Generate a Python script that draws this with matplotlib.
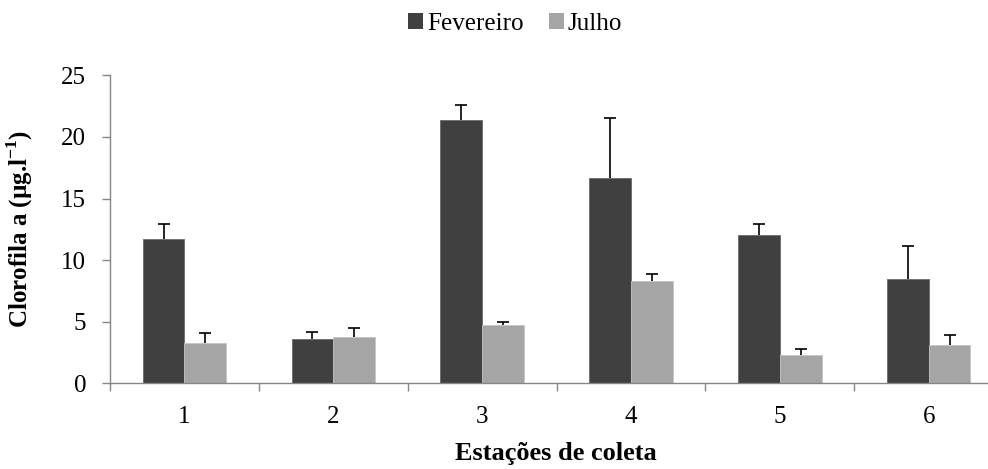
import matplotlib
matplotlib.use("Agg")
import matplotlib.pyplot as plt
import numpy as np
from matplotlib.patches import Patch

plt.rcParams['font.family'] = ['Liberation Serif', 'DejaVu Serif']
plt.rcParams['mathtext.fontset'] = 'custom'
plt.rcParams['mathtext.rm'] = 'Liberation Serif'
plt.rcParams['mathtext.bf'] = 'Liberation Serif:bold'

stations = ['1', '2', '3', '4', '5', '6']
fevereiro = [11.7, 3.6, 21.35, 16.7, 12.0, 8.45]
fevereiro_err = [1.25, 0.6, 1.25, 4.8, 0.9, 2.7]
julho = [3.25, 3.75, 4.7, 8.3, 2.3, 3.1]
julho_err = [0.8, 0.75, 0.3, 0.6, 0.45, 0.8]
yticks = [0, 5, 10, 15, 20, 25]

dark = '#404040'
light = '#a5a5a5'
axis_gray = '#868686'

fig = plt.figure(figsize=(9.88, 4.69), dpi=100)
ax = fig.add_axes([0.1113, 0.1827, 0.904, 0.6567])

x = np.arange(len(stations))
w = 0.28
ekw = dict(elinewidth=1.2, capthick=1.2, ecolor='black')
c1 = ax.bar(x - w / 2, fevereiro, w, color=dark, edgecolor='#6a6a6a', linewidth=0.6,
            yerr=[np.zeros(len(x)), fevereiro_err], capsize=4.3, error_kw=ekw, zorder=2)
c2 = ax.bar(x + w / 2, julho, w, color=light, edgecolor='#c4c4c4', linewidth=0.6,
            yerr=[np.zeros(len(x)), julho_err], capsize=4.3, error_kw=ekw, zorder=2)
# one-sided error bars: hide the caps drawn at the bar tops
for cont in (c1, c2):
    caplines = cont.errorbar.lines[1]
    if len(caplines) == 2:
        caplines[0].set_visible(False)

ax.set_xlim(-0.5, len(stations) - 0.5)
ax.set_ylim(0, 25)
ax.set_yticks(yticks)
ax.set_yticklabels([str(v) for v in yticks], fontsize=18)
ax.set_xticks(x)
ax.set_xticklabels(stations, fontsize=18)
ax.set_xticks(np.arange(-0.5, len(stations)), minor=True)
ax.tick_params(axis='x', which='major', length=0, pad=16)
ax.tick_params(axis='x', which='minor', length=6, width=1.0, color=axis_gray, direction='out')
ax.tick_params(axis='y', length=6, width=1.0, color=axis_gray, direction='out', pad=11)

for side in ('top', 'right'):
    ax.spines[side].set_visible(False)
for side in ('left', 'bottom'):
    ax.spines[side].set_color(axis_gray)
    ax.spines[side].set_linewidth(1.0)

fig.text(20 / 988, 0.1827 + 0.6567 / 2, 'Clorofila a (µg.l$^{\\mathbf{-1}}$)',
         rotation=90, ha='center', va='center', fontsize=18, fontweight='bold')
fig.text(556 / 988, 1 - 453 / 469, 'Estações de coleta', ha='center', va='center',
         fontsize=19, fontweight='bold')

handles = [Patch(facecolor=dark, edgecolor='none', label='Fevereiro'),
           Patch(facecolor=light, edgecolor='none', label='Julho')]
fig.legend(handles=handles, loc='center', bbox_to_anchor=(515 / 988, 1 - 24 / 469), ncol=2,
           frameon=False, fontsize=18, handlelength=0.62, handleheight=0.62,
           handletextpad=0.15, columnspacing=1.0, borderaxespad=0)

fig.savefig('out.png', dpi=100)
